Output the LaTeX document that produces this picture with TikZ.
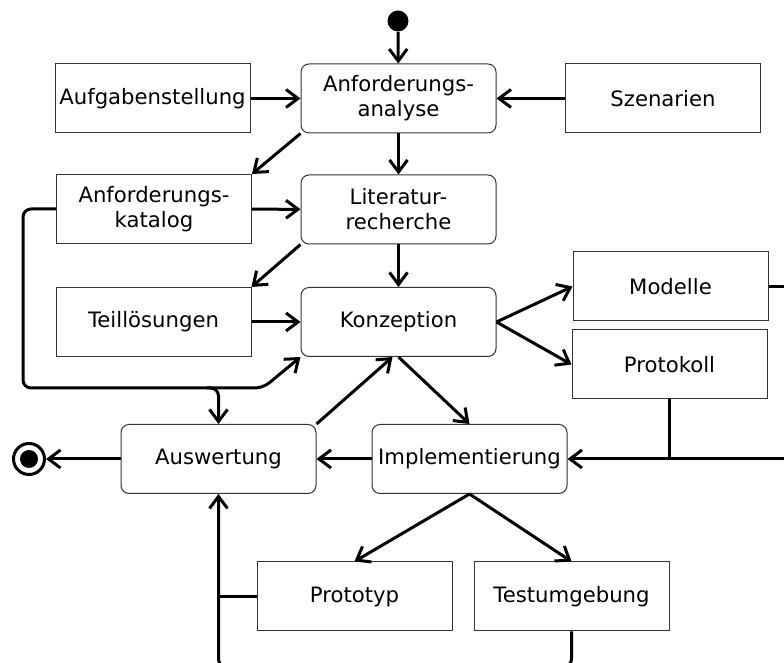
\documentclass[tikz,border=0pt]{standalone}
\usepackage{fontspec}
\setmainfont{DejaVu Sans}
\usetikzlibrary{arrows.meta}
\begin{document}
\begin{tikzpicture}[x=0.5pt,y=-0.5pt,
  font=\fontsize{10.6}{12.5}\selectfont,
  base/.style={draw=black!80,line width=0.5pt,fill=white,align=center,
    minimum width=97.5pt,minimum height=34.5pt,inner sep=1pt},
  artifact/.style={base},
  activity/.style={base,rounded corners=4pt},
  flow/.style={line width=1.5pt,-{Straight Barb[length=6pt,width=9pt,line width=1.5pt]},line join=round},
  plainflow/.style={line width=1.5pt,line join=round}]
\useasboundingbox (0,0) rectangle (784,663);
\clip (0,0) rectangle (784,663);

% start and end states
\node[circle,fill=black,minimum size=10.5pt,inner sep=0pt] (start) at (398,21) {};
\node[circle,draw=black,line width=1.5pt,minimum size=15.5pt,inner sep=0pt] (end) at (29,459) {};
\fill[black] (end.center) circle (4.5pt);

% activities
\node[activity] (aa) at (398.5,98.5) {Anforderungs-\\analyse};
\node[activity] (lit) at (398.5,209.5) {Literatur-\\recherche};
\node[activity] (konz) at (398.5,322) {Konzeption};
\node[activity] (ausw) at (218.5,459) {Auswertung};
\node[activity] (impl) at (469.5,459) {Implementierung};

% artifacts
\node[artifact] (aufg) at (152.5,98.5) {Aufgabenstellung};
\node[artifact] (szen) at (663,98.5) {Szenarien};
\node[artifact] (kat) at (154,209) {Anforderungs-\\katalog};
\node[artifact] (teil) at (153.5,322) {Teillösungen};
\node[artifact] (mod) at (670.5,286.5) {Modelle};
\node[artifact] (prot) at (669.5,364.5) {Protokoll};
\node[artifact] (proto) at (354.5,596.5) {Prototyp};
\node[artifact] (test) at (571.5,596.5) {Testumgebung};

% helper points of the routed connectors
\coordinate (katL) at (23,209);
\coordinate (katB) at (23,388);
\coordinate (katJ) at (218.5,388);
\coordinate (katK) at (263,388);
\coordinate (modR1) at (812,286.5);
\coordinate (modR2) at (812,459);
\coordinate (protJ) at (669.5,459);
\coordinate (testB) at (571.5,667);
\coordinate (auswB) at (218.5,667);
\coordinate (protoJ) at (218.5,596.5);

% main flow
\draw[flow] (start) -- (aa);
\draw[flow] (aufg) -- (aa);
\draw[flow] (szen) -- (aa);
\draw[flow] (aa) -- (lit);
\draw[flow] (aa.south west) -- (kat.north east);
\draw[flow] (kat) -- (lit);
\draw[flow] (lit) -- (konz);
\draw[flow] (lit.south west) -- (teil.north east);
\draw[flow] (teil) -- (konz);
\draw[flow] (konz.east) -- (mod.west);
\draw[flow] (konz.east) -- (prot.west);
\draw[flow] (konz.south) -- (impl.north);
\draw[flow] (ausw.north east) -- ([xshift=-3pt]konz.south);
\draw[flow] (impl) -- (ausw);
\draw[flow] (ausw) -- (end);
\draw[flow] (impl.south) -- (proto.north);
\draw[flow] (impl.south) -- (test.north);

% feedback loops
\draw[flow,rounded corners=4pt] (kat.west) -- (katL) -- (katB) -- (katK) -- (konz.south west);
\draw[flow,rounded corners=4pt] ([xshift=-6pt]katJ) -| (ausw.north);
\draw[flow] (mod.east) -- (modR1) -- (modR2) -- (impl.east);
\draw[plainflow] (prot.south) -- (protJ);
\draw[flow,rounded corners=4pt] (test.south) -- (testB) -- (auswB) -- (ausw.south);
\draw[plainflow] (proto.west) -- (protoJ);
\end{tikzpicture}
\end{document}
